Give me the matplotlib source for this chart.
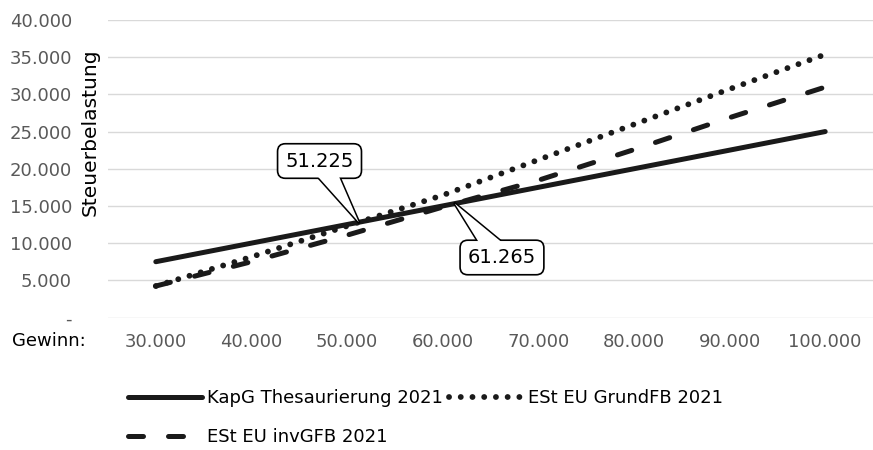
import matplotlib.pyplot as plt
import numpy as np

# Gewinn vs. Steuerbelastung, Rechtsformvergleich 2021
gewinn = [30000, 40000, 50000, 60000, 70000, 80000, 90000, 100000]
kapg_thes = [7500, 10000, 12500, 15000, 17500, 20000, 22500, 25000]
est_grundfb = [4230, 8150, 12300, 16440, 21200, 25960, 30710, 35370]
est_invgfb = [4230, 7500, 11070, 14850, 18450, 22570, 26870, 30980]
break_even = [51225, 61265]
y_ticks = [0, 5000, 10000, 15000, 20000, 25000, 30000, 35000, 40000]

names = ["KapG Thesaurierung 2021", "ESt EU GrundFB 2021", "ESt EU invGFB 2021"]


def tsd(v):
    return "-" if v == 0 else f"{v:,.0f}".replace(",", ".")


plt.rcParams["font.family"] = "DejaVu Sans"
grey = "#595959"
ink = "#1a1a1a"

fig = plt.figure(figsize=(8.73, 4.5), dpi=100)
ax = fig.add_axes([108 / 873, 1 - 317.5 / 450, 765 / 873, 297.5 / 450])

lw = 3.6
l1, = ax.plot(gewinn, kapg_thes, color=ink, lw=lw, solid_capstyle="round")
l2, = ax.plot(gewinn, est_grundfb, color=ink, lw=4.2, linestyle=(0, (0.01, 2.0)),
              dash_capstyle="round")
l3, = ax.plot(gewinn, est_invgfb, color=ink, lw=lw, linestyle=(0, (3, 5)),
              dash_capstyle="round")

ax.set_xlim(25000, 105000)
ax.set_ylim(0, 40000)
ax.set_xticks(gewinn)
ax.set_xticklabels([tsd(g) for g in gewinn])
ax.set_yticks(y_ticks)
ax.set_yticklabels([tsd(t) for t in y_ticks])
ax.tick_params(length=0, labelsize=13, labelcolor=grey)
ax.tick_params(axis="y", pad=26)
ax.tick_params(axis="x", pad=11)
ax.grid(axis="y", color="#d9d9d9", lw=1)
ax.set_axisbelow(True)
for s in ax.spines.values():
    s.set_visible(False)

fig.text(90 / 873, 1 - 132 / 450, "Steuerbelastung", rotation=90,
         ha="center", va="center", fontsize=14.6, color="black")
fig.text(12 / 873, 1 - 341 / 450, "Gewinn:", ha="left", va="center",
         fontsize=13, color="black")

# Break-even Punkte als Sprechblasen: Keil unter dem Kasten, dann
# Kasten, dann weisse Keilflaeche (oeffnet den Rahmen), dann Text
offsets = [(47120, 21040), (66200, 8070)]
box = dict(boxstyle="round,pad=0.4", fc="white", ec="black", lw=1.2)
for be, (tx, ty) in zip(break_even, offsets):
    yv = np.interp(be, gewinn, kapg_thes)
    for ec, elw, z in [("black", 2.2, 4), ("none", 0, 6)]:
        ax.annotate("", xy=(be, yv), xytext=(tx, ty), zorder=z,
                    arrowprops=dict(arrowstyle="wedge,tail_width=0.85",
                                    mutation_scale=20, fc="white", ec=ec,
                                    lw=elw, shrinkA=0, shrinkB=0))
    ax.text(tx, ty, tsd(be), fontsize=14, ha="center", va="center",
            color="none", bbox=box, zorder=5)
    ax.text(tx, ty, tsd(be), fontsize=14, ha="center", va="center",
            color="black", zorder=7)

fig.legend([l1, l3, l2], [names[0], names[2], names[1]], ncol=2,
           loc="upper left", bbox_to_anchor=(128 / 873, 1 - 389 / 450),
           frameon=False, fontsize=13, handlelength=4.1, handletextpad=0.3,
           columnspacing=0.3, labelspacing=1.17, borderpad=0, borderaxespad=0)

fig.savefig("out.png", dpi=100)
